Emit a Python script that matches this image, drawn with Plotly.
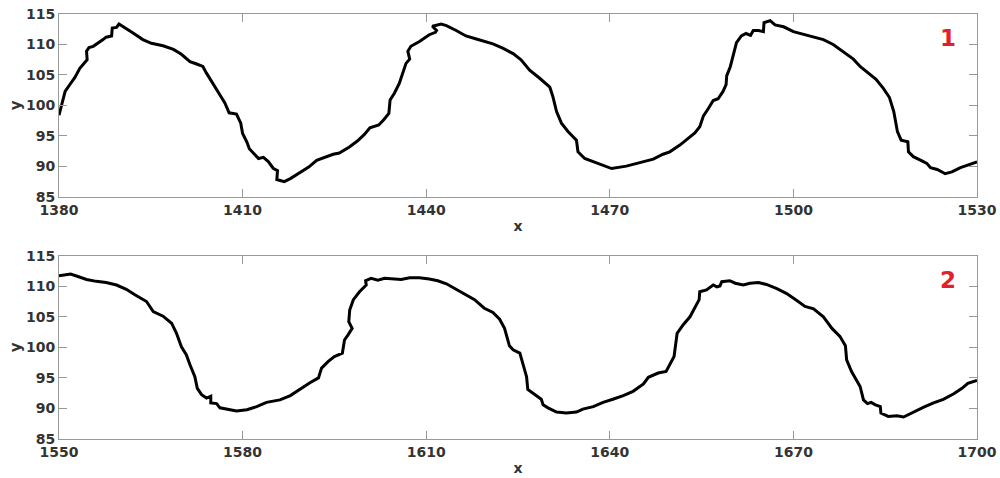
import plotly.graph_objects as go

# Panel 1 trace
x1 = [1380.0, 1380.65, 1381.0, 1381.75, 1382.6, 1383.4, 1384.0, 1384.6, 1384.5, 1384.9, 1385.6, 1386.4,
      1387.2, 1387.7, 1388.6, 1388.7, 1389.4, 1389.8, 1390.7, 1392.1, 1393.7, 1395.1, 1397.0, 1398.7,
      1400.0, 1401.4, 1402.5, 1403.5, 1404.1, 1405.2, 1406.3, 1407.1, 1407.8, 1409.0, 1409.7, 1410.0,
      1410.7, 1411.1, 1411.8, 1412.6, 1413.4, 1414.2, 1415.0, 1415.7, 1415.6, 1416.4, 1416.8, 1417.8,
      1419.4, 1420.8, 1422.1, 1423.5, 1424.8, 1425.8, 1427.45, 1428.8, 1429.9, 1430.8, 1432.25, 1433.1,
      1433.9, 1434.1, 1434.8, 1435.6, 1436.2, 1436.7, 1437.3, 1437.0, 1437.5, 1438.9, 1440.5, 1441.5,
      1441.7, 1441.0, 1442.45, 1443.3, 1444.9, 1446.5, 1448.2, 1450.9, 1452.5, 1454.2, 1455.5, 1456.9,
      1458.5, 1460.2, 1460.7, 1461.3, 1462.1, 1463.2, 1464.55, 1464.8, 1465.9, 1467.8, 1470.3, 1472.7,
      1474.9, 1477.1, 1478.7, 1479.8, 1481.45, 1482.8, 1483.9, 1484.7, 1485.3, 1486.1, 1486.9, 1487.7,
      1488.5, 1489.0, 1489.1, 1489.7, 1490.2, 1490.7, 1491.5, 1492.25, 1493.0, 1493.45, 1494.3, 1495.1,
      1495.2, 1496.2, 1497.0, 1498.4, 1500.0, 1501.6, 1503.3, 1504.9, 1506.5, 1508.2, 1509.8, 1510.9,
      1512.3, 1513.5, 1514.7, 1515.7, 1516.4, 1517.0, 1517.6, 1518.7, 1518.8, 1519.6, 1521.0, 1521.8,
      1522.4, 1523.5, 1524.8, 1525.9, 1527.3, 1528.6, 1530.0]
y1 = [98.4, 100.9, 102.3, 103.4, 104.6, 106.1, 106.9, 107.5, 108.9, 109.5, 109.7, 110.2,
      110.8, 111.2, 111.4, 112.7, 112.8, 113.35, 112.8, 111.9, 110.8, 110.2, 109.8, 109.2,
      108.4, 107.2, 106.8, 106.4, 105.3, 103.4, 101.7, 100.4, 98.8, 98.6, 97.1, 95.4,
      94.0, 92.9, 92.1, 91.3, 91.5, 90.8, 89.7, 89.3, 87.85, 87.7, 87.5, 88.0,
      89.0, 89.9, 91.0, 91.5, 92.0, 92.2, 93.2, 94.2, 95.25, 96.35, 96.8, 97.7,
      98.7, 100.9, 102.0, 103.6, 105.6, 106.9, 107.6, 108.9, 109.7, 110.5, 111.6, 112.0,
      112.3, 113.0, 113.35, 113.1, 112.3, 111.4, 110.9, 110.1, 109.4, 108.5, 107.5, 105.8,
      104.5, 103.0, 101.45, 99.0, 97.1, 95.7, 94.3, 92.4, 91.3, 90.6, 89.65, 90.05,
      90.65, 91.2, 92.0, 92.4, 93.5, 94.6, 95.5, 96.5, 98.3, 99.5, 100.8, 101.1,
      102.3, 103.4, 104.85, 106.4, 108.3, 110.3, 111.4, 111.8, 111.5, 112.3, 112.3, 112.1,
      113.6, 113.9, 113.2, 112.9, 112.1, 111.7, 111.3, 110.8, 110.0, 108.7, 107.6, 106.4,
      105.2, 104.3, 102.8, 101.3, 99.0, 95.7, 94.3, 94.05, 92.4, 91.6, 90.9, 90.5,
      89.8, 89.5, 88.8, 89.1, 89.8, 90.2, 90.75]

# Panel 2 trace
x2 = [1550.0, 1550.9, 1551.9, 1553.1, 1554.5, 1556.1, 1557.7, 1559.4, 1561.0, 1562.4, 1564.3, 1565.4,
      1567.0, 1568.4, 1569.2, 1570.0, 1570.8, 1571.4, 1572.2, 1572.6, 1573.3, 1574.1, 1574.8, 1574.8,
      1575.75, 1576.3, 1577.7, 1579.0, 1580.7, 1582.3, 1583.9, 1586.1, 1587.8, 1589.4, 1591.0, 1592.4,
      1592.9, 1594.0, 1595.0, 1596.3, 1596.65, 1597.2, 1597.9, 1597.35, 1597.5, 1598.1, 1599.1, 1600.2,
      1600.1, 1601.0, 1602.1, 1603.2, 1604.5, 1605.9, 1607.3, 1608.9, 1610.5, 1611.9, 1613.3, 1614.9,
      1616.3, 1617.9, 1619.5, 1620.9, 1622.0, 1622.8, 1623.6, 1624.2, 1625.3, 1625.8, 1626.4, 1626.6,
      1627.7, 1628.8, 1629.1, 1629.9, 1631.3, 1632.9, 1634.55, 1635.6, 1637.3, 1638.9, 1640.5, 1642.2,
      1643.8, 1645.5, 1646.3, 1647.9, 1649.2, 1649.8, 1650.5, 1651.0, 1652.0, 1653.1, 1653.9, 1654.6,
      1654.7, 1655.8, 1656.9, 1657.5, 1658.0, 1658.3, 1659.6, 1660.5, 1661.8, 1662.9, 1664.3, 1665.6,
      1667.3, 1668.9, 1670.5, 1671.9, 1673.3, 1674.9, 1676.3, 1677.6, 1678.5, 1678.7, 1679.5, 1680.9,
      1681.45, 1682.1, 1682.7, 1683.4, 1684.2, 1684.3, 1685.5, 1686.9, 1688.0, 1689.6, 1691.3, 1692.9,
      1694.5, 1696.2, 1697.55, 1698.5, 1700.0]
y2 = [111.7, 111.85, 112.0, 111.6, 111.1, 110.8, 110.6, 110.2, 109.5, 108.6, 107.5, 105.85,
      105.1, 103.95, 102.3, 100.1, 98.8, 97.15, 95.2, 93.3, 92.25, 91.7, 92.0, 90.9,
      90.8, 90.1, 89.8, 89.6, 89.8, 90.3, 91.0, 91.4, 92.1, 93.2, 94.2, 95.0,
      96.6, 97.7, 98.5, 99.05, 101.2, 102.0, 103.1, 104.2, 106.1, 107.8, 109.1, 110.2,
      110.9, 111.3, 111.0, 111.3, 111.2, 111.1, 111.4, 111.4, 111.2, 110.9, 110.4, 109.5,
      108.6, 107.8, 106.4, 105.7, 104.6, 103.1, 100.25, 99.6, 99.05, 97.15, 95.2, 93.1,
      92.25, 91.5, 90.6, 90.1, 89.4, 89.25, 89.4, 89.9, 90.3, 91.0, 91.5, 92.1,
      92.8, 94.0, 95.1, 95.8, 96.05, 97.15, 98.5, 102.3, 103.7, 105.0, 106.4, 107.8,
      109.1, 109.4, 110.2, 109.9, 110.05, 110.75, 110.9, 110.5, 110.2, 110.5, 110.6, 110.3,
      109.6, 108.8, 107.7, 106.7, 106.3, 105.0, 103.1, 101.8, 100.25, 97.95, 96.05, 93.6,
      91.4, 90.8, 91.0, 90.6, 90.3, 89.25, 88.7, 88.8, 88.6, 89.4, 90.2, 90.9,
      91.5, 92.4, 93.3, 94.1, 94.6]

x_ticks1 = [1380, 1410, 1440, 1470, 1500, 1530]
x_ticks2 = [1550, 1580, 1610, 1640, 1670, 1700]
y_ticks = [85, 90, 95, 100, 105, 110, 115]
panel_labels = ["1", "2"]

FONT = "DejaVu Sans"
TXT = "#333333"
AX = "#999999"

fig = go.Figure()
fig.add_trace(go.Scatter(x=x1, y=y1, mode="lines", line=dict(color="black", width=3),
                         xaxis="x", yaxis="y", showlegend=False))
fig.add_trace(go.Scatter(x=x2, y=y2, mode="lines", line=dict(color="black", width=3),
                         xaxis="x2", yaxis="y2", showlegend=False))

def xax(ticks, anchor):
    return dict(range=[ticks[0], ticks[-1]], tickvals=ticks, ticks="inside", ticklen=8,
                tickcolor=AX, showline=True, linecolor=AX, linewidth=1, mirror="ticks",
                showgrid=False, zeroline=False, anchor=anchor, automargin=False,
                tickfont=dict(family=FONT, size=14, color=TXT, weight="bold"),
                title=dict(text="x", font=dict(family=FONT, size=14, color=TXT, weight="bold"),
                           standoff=4))

def yax(dom, anchor):
    return dict(range=[85, 115], tickvals=y_ticks, ticks="inside", ticklen=8,
                tickcolor=AX, showline=True, linecolor=AX, linewidth=1, mirror="ticks",
                showgrid=False, zeroline=False, domain=dom, anchor=anchor, automargin=False,
                tickfont=dict(family=FONT, size=14, color=TXT, weight="bold"),
                title=dict(text="y", font=dict(family=FONT, size=15, color=TXT, weight="bold"),
                           standoff=0))

fig.update_layout(
    width=1000, height=478,
    margin=dict(l=59, r=23, t=14, b=39),
    paper_bgcolor="white", plot_bgcolor="white",
    xaxis=xax(x_ticks1, "y"),
    yaxis=yax([0.5696, 1.0], "x"),
    xaxis2=xax(x_ticks2, "y2"),
    yaxis2=yax([0.0, 0.4313], "x2"),
    font=dict(family=FONT),
)

for lab, xr, yr in [(panel_labels[0], "x domain", "y domain"), (panel_labels[1], "x2 domain", "y2 domain")]:
    fig.add_annotation(text=lab, xref=xr, yref=yr, x=0.968, y=0.87,
                       showarrow=False, font=dict(family=FONT, size=23, color="#e3202a", weight="bold"),
                       xanchor="center", yanchor="middle")

fig.write_html("out.html")
